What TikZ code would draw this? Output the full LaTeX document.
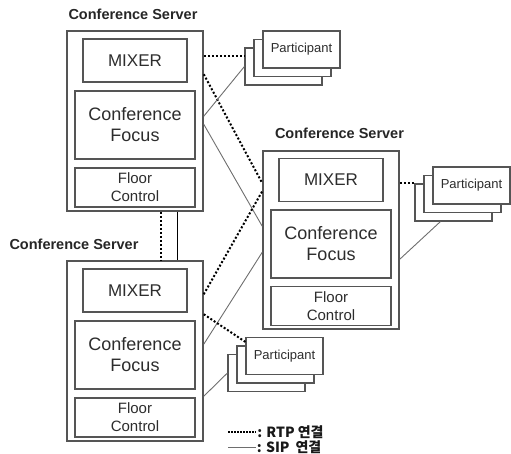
\documentclass[tikz,border=0pt]{standalone}
\usepackage{fontspec}
\setmainfont{Liberation Sans}
\newfontfamily\kor{Noto Sans CJK KR}
\definecolor{boxgray}{RGB}{85,85,85}
\definecolor{linegray}{RGB}{110,110,110}
\definecolor{txtgray}{RGB}{45,45,45}
\tikzset{
  server/.style={draw=boxgray,line width=1.5pt,minimum width=136pt,minimum height=180pt,inner sep=0pt},
  mixer/.style={draw=boxgray,line width=1.3pt,fill=white,minimum width=104pt,minimum height=43pt,inner sep=0pt,
    text=txtgray,font=\fontsize{17}{20}\selectfont},
  focus/.style={draw=boxgray,line width=1.3pt,fill=white,minimum width=120pt,minimum height=68pt,inner sep=0pt,
    text=txtgray,align=center,font=\fontsize{18}{21}\selectfont},
  floor/.style={draw=boxgray,line width=1.3pt,fill=white,minimum width=120pt,minimum height=39pt,inner sep=0pt,
    text=txtgray,align=center,font=\fontsize{15}{18}\selectfont},
  part/.style={draw=boxgray,line width=1.2pt,fill=white,minimum width=77pt,minimum height=37pt,inner sep=0pt,
    text=txtgray,font=\fontsize{13}{15}\selectfont},
  title/.style={font=\bfseries\fontsize{14.5}{16}\selectfont,text=black!85,inner sep=0pt},
  rtp/.style={black,line width=2pt,dash pattern=on 2pt off 2pt},
  sip/.style={linegray,line width=0.9pt},
  link/.style={black,line width=0.9pt},
  legend/.style={font=\kor\bfseries\fontsize{14}{16}\selectfont,text=black!90,inner sep=0.5pt,anchor=west}
}
\begin{document}
\begin{tikzpicture}[x=1pt,y=-1pt]
\useasboundingbox (0,0) rectangle (511,453);
% servers
\node[server] (s1) at (135,121) {};
\node[server] (s3) at (135,351) {};
\node[server,minimum height=178pt] (s2) at (331,240) {};
\node[title] (s1name) at (133,14) {Conference Server};
\node[title] (s2name) at (339.5,133) {Conference Server};
\node[title] (s3name) at (74,244) {Conference Server};
\node[mixer] (s1mix) at (135,60.5) {MIXER};
\node[focus] (s1foc) at (135,125) {Conference\\Focus};
\node[floor] (s1flr) at (135,187.5) {Floor\\Control};
\node[mixer] (s3mix) at (135,290.5) {MIXER};
\node[focus] (s3foc) at (135,355) {Conference\\Focus};
\node[floor] (s3flr) at (135,417.5) {Floor\\Control};
\node[mixer] (s2mix) at (331,180) {MIXER};
\node[focus] (s2foc) at (331,244) {Conference\\Focus};
\node[floor] (s2flr) at (331,306) {Floor\\Control};
% links between servers
\draw[rtp] ([xshift=26pt]s1.south) -- ([xshift=26pt]s3.north);
\draw[link] ([xshift=42pt]s1.south) -- ([xshift=42pt]s3.north);
\draw[rtp] ([yshift=-44pt]s1.north east) -- ([yshift=-33pt]s2.north west);
\draw[sip] ([yshift=-94pt]s1.north east) -- ([yshift=-76pt]s2.north west);
\draw[rtp] ([yshift=-34pt]s3.north east) -- ([yshift=-41pt]s2.north west);
\draw[sip] ([yshift=-84pt]s3.north east) -- ([yshift=-102pt]s2.north west);
% participants
\node[part] (p1c) at (283.5,66.5) {};
\node[part] (p1b) at (292.5,58) {};
\node[part] (p1a) at (301.5,49.5) {Participant};
\node[part] (p2c) at (453.5,202.5) {};
\node[part] (p2b) at (462.5,194) {};
\node[part] (p2a) at (471.5,185.5) {Participant};
\node[part] (p3c) at (266.5,373) {};
\node[part] (p3b) at (275.5,364.5) {};
\node[part] (p3a) at (284.5,356) {Participant};
% links to participants
\coordinate (m1) at ([yshift=-26pt]s1.north east);
\draw[rtp] (m1) -- (m1 -| p1c.west);
\draw[sip] ([yshift=-86pt]s1.north east) -- (p1c.west);
\coordinate (m2) at ([yshift=-33pt]s2.north east);
\draw[rtp] (m2) -- (m2 -| p2c.west);
\draw[sip] ([yshift=-109pt]s2.north east) -- ([xshift=26pt]p2c.south west);
\draw[rtp] ([yshift=-54pt]s3.north east) -- ([yshift=-5pt]p3a.north west);
\draw[sip] ([yshift=-136pt]s3.north east) -- (p3c.west);
% legend
\coordinate (rtpkey) at (228,432);
\coordinate (sipkey) at (228,447);
\draw[rtp,line width=1.5pt,dash pattern=on 1.5pt off 1.5pt] (rtpkey) -- ++(28,0) node[legend] (rtptxt) {: RTP 연결};
\draw[sip] (sipkey) -- ++(28,0) node[legend] (siptxt) {: SIP\hspace{6pt}연결};
\end{tikzpicture}
\end{document}
